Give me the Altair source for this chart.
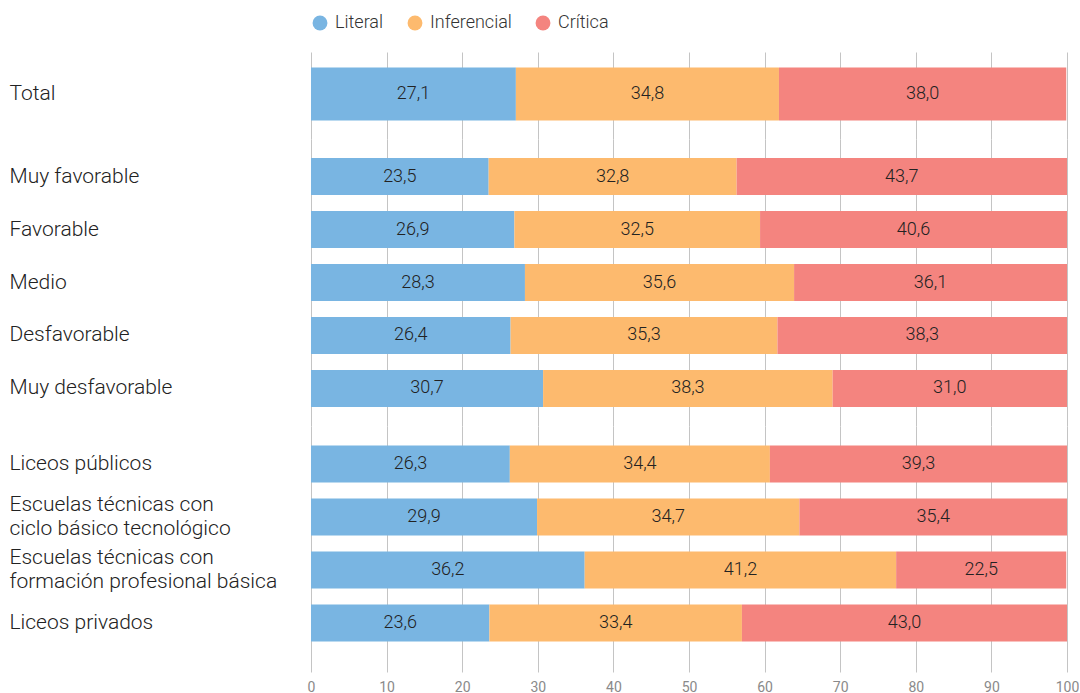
import altair as alt
import pandas as pd

categories = [
    "Total",
    "Muy favorable", "Favorable", "Medio", "Desfavorable", "Muy desfavorable",
    "Liceos públicos",
    "Escuelas técnicas con\nciclo básico tecnológico",
    "Escuelas técnicas con\nformación profesional básica",
    "Liceos privados",
]
panels = [0, 1, 1, 1, 1, 1, 2, 2, 2, 2]
series = ["Literal", "Inferencial", "Crítica"]
literal = [27.1, 23.5, 26.9, 28.3, 26.4, 30.7, 26.3, 29.9, 36.2, 23.6]
inferencial = [34.8, 32.8, 32.5, 35.6, 35.3, 38.3, 34.4, 34.7, 41.2, 33.4]
critica = [38.0, 43.7, 40.6, 36.1, 38.3, 31.0, 39.3, 35.4, 22.5, 43.0]
colors = ["#79B5E2", "#FDBA6E", "#F4847F"]
x_ticks = [0, 10, 20, 30, 40, 50, 60, 70, 80, 90, 100]

rows = []
for i, c in enumerate(categories):
    for k, (s, vals) in enumerate(zip(series, [literal, inferencial, critica])):
        rows.append({"cat": c, "panel": panels[i], "serie": s, "order": k, "value": vals[i]})
df = pd.DataFrame(rows)

FONT = "Roboto"


def panel(pid, height, pad_outer, align, bar_h, bottom):
    cats = [c for c, p in zip(categories, panels) if p == pid]
    base = (
        alt.Chart(df)
        .transform_filter(alt.datum.panel == pid)
        .transform_stack(
            stack="value", groupby=["cat"], as_=["x0", "x1"],
            sort=[alt.SortField("order", order="ascending")],
        )
        .transform_calculate(
            mid="(datum.x0 + datum.x1) / 2",
            label="replace(format(datum.value, '.1f'), '.', ',')",
        )
    )
    y = alt.Y(
        "cat:N", sort=cats, title=None,
        scale=alt.Scale(paddingInner=0, paddingOuter=pad_outer, align=align),
        axis=alt.Axis(
            labelAlign="left", labelPadding=302, ticks=False, domain=False,
            labelFontSize=21, labelFont=FONT, labelFontWeight=300, labelColor="#222222",
            labelLineHeight=24, labelBaseline="middle", labelLimit=400,
            labelExpr="split(datum.label, '\\n')",
            labelOffset={
                "condition": {"test": "indexof(datum.value, '\\n') >= 0", "value": -12},
                "value": 0,
            },
        ),
    )
    if bottom:
        xaxis = alt.Axis(
            values=x_ticks, grid=True, ticks=False, domain=False, labels=True,
            labelFontSize=14, labelFont=FONT, labelColor="#8a8a8a", labelPadding=8,
            gridColor="#c4c4c4", gridWidth=1, title=None, labelFlush=False,
        )
    else:
        xaxis = alt.Axis(
            values=x_ticks, grid=True, ticks=False, domain=False, labels=False,
            gridColor="#c4c4c4", gridWidth=1, title=None,
        )
    legend = None
    if pid == 0:
        legend = alt.Legend(
            orient="top", title=None, symbolType="circle", symbolSize=220,
            symbolStrokeWidth=0, labelFontSize=18, labelFont=FONT, labelFontWeight=300,
            labelColor="#333333", columnPadding=22, labelOffset=6, offset=20, padding=0,
        )
    bars = base.mark_bar(height=bar_h).encode(
        x=alt.X("x0:Q", scale=alt.Scale(domain=[0, 100], nice=False, zero=True), axis=xaxis),
        x2="x1:Q",
        y=y,
        color=alt.Color(
            "serie:N", scale=alt.Scale(domain=series, range=colors), legend=legend,
            sort=series,
        ),
    )
    text = base.mark_text(
        font=FONT, fontSize=18, fontWeight=300, color="#222222", baseline="middle"
    ).encode(
        x=alt.X("mid:Q"),
        y=y,
        text="label:N",
    )
    return alt.layer(bars, text).properties(width=756, height=height)


p1 = panel(0, 87, 0.327, 0.456, 53, False)
p2 = panel(1, 287, 0.208, 0.5, 37, False)
p3 = panel(2, 246, 0.3208, 0.338, 37, True)

chart = (
    alt.vconcat(p1, p2, p3, spacing=0)
    .resolve_legend(color="independent")
    .resolve_scale(color="independent")
    .properties(padding={"left": 9, "top": 14, "right": 0, "bottom": 0}, background="white")
    .configure_view(stroke=None)
)

chart.save("out.html", embed_options={"renderer": "svg", "actions": False})
